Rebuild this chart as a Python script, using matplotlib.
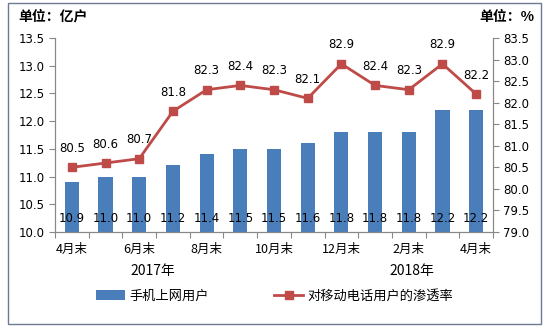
import matplotlib
matplotlib.use("Agg")
import matplotlib.pyplot as plt
from matplotlib.patches import Rectangle
import numpy as np

plt.rcParams["font.family"] = ["Noto Sans CJK SC", "DejaVu Sans"]

# monthly data, Apr 2017 .. Apr 2018
months = ["4月末", "", "6月末", "", "8月末", "", "10月末", "", "12月末", "", "2月末", "", "4月末"]
users = [10.9, 11.0, 11.0, 11.2, 11.4, 11.5, 11.5, 11.6, 11.8, 11.8, 11.8, 12.2, 12.2]
penetration = [80.5, 80.6, 80.7, 81.8, 82.3, 82.4, 82.3, 82.1, 82.9, 82.4, 82.3, 82.9, 82.2]

BAR_C = "#4a7ebb"
LINE_C = "#be4b48"

fig = plt.figure(figsize=(5.49, 3.29), dpi=100)
ax = fig.add_axes([55 / 549, 1 - 232 / 329, 438 / 549, 194 / 329])
x = np.arange(len(users))

bars = ax.bar(x, users, width=0.42, color=BAR_C, zorder=2, label="手机上网用户")
ax.set_ylim(10.0, 13.5)
ax.set_xlim(-0.5, len(users) - 0.5)
ax.set_yticks(np.arange(10.0, 13.51, 0.5))
ax.set_yticklabels([f"{v:.1f}" for v in np.arange(10.0, 13.51, 0.5)], family="DejaVu Sans", fontsize=8.5)
for xi, v in zip(x, users):
    ax.text(xi, 10.25, f"{v:.1f}", ha="center", va="center", fontsize=8.5, family="DejaVu Sans", zorder=3)

# month labels under every other category, ticks on category boundaries
ax.set_xticks(np.arange(-0.5, len(users), 1.0))
ax.set_xticklabels([])
ax.tick_params(axis="x", length=4, color="#888888")
for xi, m in zip(x, months):
    if m:
        ax.text(xi, -0.09, m, transform=ax.get_xaxis_transform(), ha="center", va="center", fontsize=9)
ax.text(2.4, -0.2, "2017年", transform=ax.get_xaxis_transform(), ha="center", va="center", fontsize=10)
ax.text(10.1, -0.2, "2018年", transform=ax.get_xaxis_transform(), ha="center", va="center", fontsize=10)

ax.spines["top"].set_visible(False)
for s in ("left", "bottom", "right"):
    ax.spines[s].set_color("#888888")
ax.tick_params(axis="y", length=4, color="#888888")

ax2 = ax.twinx()
ax2.plot(x, penetration, color=LINE_C, lw=2, marker="s", markersize=6, zorder=4, label="对移动电话用户的渗透率")
ax2.set_ylim(79.0, 83.5)
ax2.set_yticks(np.arange(79.0, 83.51, 0.5))
ax2.set_yticklabels([f"{v:.1f}" for v in np.arange(79.0, 83.51, 0.5)], family="DejaVu Sans", fontsize=8.5)
ax2.tick_params(axis="y", length=4, color="#888888")
ax2.spines["top"].set_visible(False)
for s in ("left", "bottom", "right"):
    ax2.spines[s].set_color("#888888")
for xi, v in zip(x, penetration):
    ax2.annotate(f"{v:.1f}", (xi, v), xytext=(0, 9), textcoords="offset points",
                 ha="center", va="bottom", fontsize=8.5, family="DejaVu Sans")

fig.text(18 / 549, 1 - 17 / 329, "单位：亿户", fontsize=10, fontweight="bold", ha="left", va="center")
fig.text(534 / 549, 1 - 17 / 329, "单位：%", fontsize=10, fontweight="bold", ha="right", va="center")

h1, l1 = ax.get_legend_handles_labels()
h2, l2 = ax2.get_legend_handles_labels()
fig.legend(h1 + h2, l1 + l2, loc="center", bbox_to_anchor=(0.5, 1 - 296 / 329), ncol=2,
           frameon=False, fontsize=9.5, handlelength=2.2, columnspacing=5, handletextpad=0.3)

fig.patches.append(Rectangle((8 / 549, 1 - 324 / 329), 533 / 549, 321 / 329, transform=fig.transFigure,
                             fill=False, edgecolor="#6c7a96", lw=1))

fig.savefig("out.png", dpi=100)
